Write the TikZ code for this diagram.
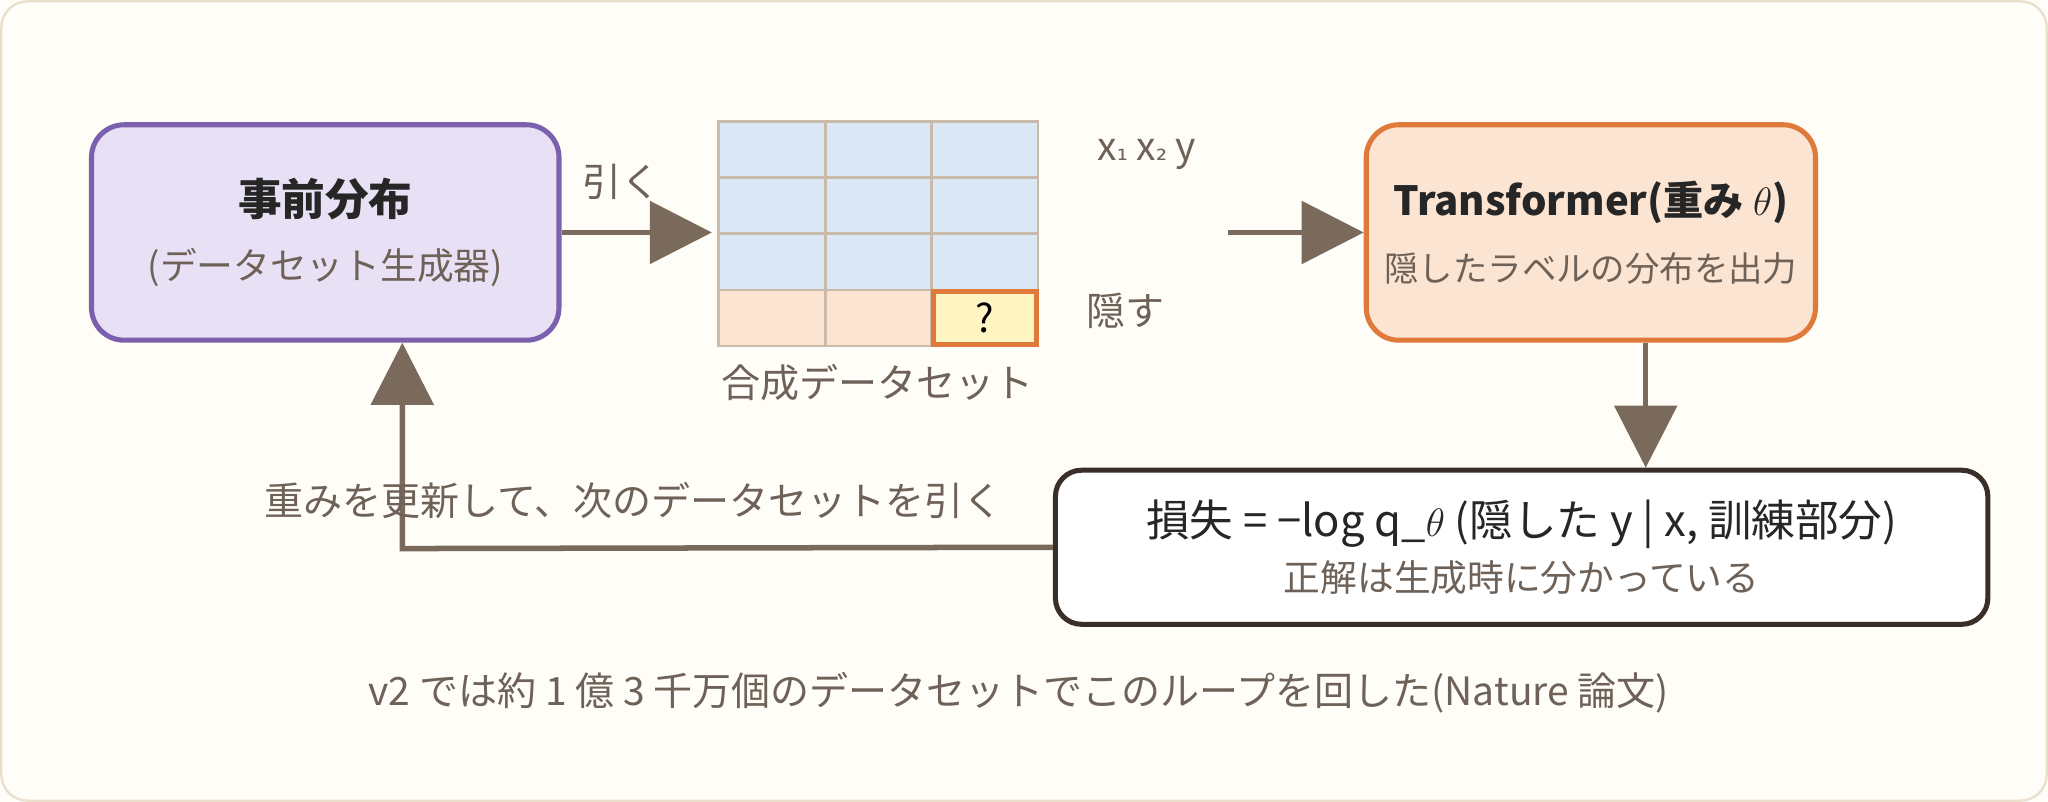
\documentclass[tikz,border=0pt]{standalone}
\usepackage{fontspec}
\setmainfont{Noto Sans CJK JP}
\newfontfamily\subfont{DejaVu Sans}
\usetikzlibrary{arrows.meta,positioning}
\definecolor{ink}{HTML}{6E6157}
\definecolor{flow}{HTML}{7A6A5C}
\definecolor{lilac}{HTML}{E8E1F5}
\definecolor{violet}{HTML}{7B60AE}
\definecolor{peach}{HTML}{FBE4D2}
\definecolor{tangerine}{HTML}{E07A3A}
\definecolor{sky}{HTML}{DCE8F5}
\definecolor{grid}{HTML}{C9BAAA}
\definecolor{lemon}{HTML}{FFF5C2}
\definecolor{paper}{HTML}{FFFDF8}
\definecolor{rim}{HTML}{EADFCB}
\definecolor{dark}{HTML}{3A2E28}
\tikzset{
  box/.style={rounded corners=0.5cm, line width=2.2pt, minimum width=7.16cm, minimum height=3.3cm, align=center, inner sep=0pt},
  flowarrow/.style={draw=flow, line width=2.4pt, -{Triangle[length=0.95cm,width=0.95cm]}},
  note/.style={text=ink, font=\fontsize{17}{20}\selectfont},
  cell/.style={draw=grid, line width=1.2pt, minimum width=1.63cm, minimum height=0.86cm, inner sep=0pt}
}
\begin{document}
\begin{tikzpicture}[x=0.02cm,y=-0.02cm]
\path[use as bounding box, fill=paper] (0,0) rectangle (1568,614);
\draw[draw=rim, line width=1pt, rounded corners=0.4cm] (1,1) rectangle (1567,613);

\node[box, draw=violet, fill=lilac] (prior) at (249,178)
  {\textbf{\fontsize{19}{22}\selectfont\color{black!85}事前分布}\\[0.4cm]{\fontsize{16}{19}\selectfont\color{ink}(データセット生成器)}};
\node[box, draw=tangerine, fill=peach, minimum width=6.88cm] (model) at (1218,178)
  {\textbf{\fontsize{17.5}{21}\selectfont\color{black!85}Transformer(重み $\theta$)}\\[0.4cm]{\fontsize{15}{18}\selectfont\color{ink}隠したラベルの分布を出力}};
\node[box, draw=dark, fill=white, minimum width=14.28cm, minimum height=2.36cm, rounded corners=0.4cm] (loss) at (1165,419)
  {{\fontsize{19}{22}\selectfont\color{black!85}損失 = −log q\_$\theta$ (隠した y | x, 訓練部分)}\\[0.15cm]{\fontsize{16}{19}\selectfont\color{ink}正解は生成時に分かっている}};

% synthetic table
\foreach \r in {0,1,2}
  \foreach \c in {0,1,2}
    \node[cell, fill=sky] (t\r\c) at (591+81.5*\c,114.5+43*\r) {};
\node[cell, fill=peach] (t30) at (591,243.5) {};
\node[cell, fill=peach] (t31) at (672.5,243.5) {};
\node[cell, fill=lemon, draw=tangerine, line width=2.2pt, minimum width=1.58cm, minimum height=0.82cm] (t32) at (754,243.5) {\fontsize{17}{20}\selectfont ?};
\node[note] (cols) at (878,118) {x{\subfont\fontsize{12}{14}\selectfont ₁} x{\subfont\fontsize{12}{14}\selectfont ₂} y};
\node[note] (hide) at (862,238) {隠す};
\node[note] (synth) at (672,293) {合成データセット};

\coordinate (tin) at (545,178);
\coordinate (tout) at (940,178);
\coordinate (corner) at (308,420);

\draw[flowarrow] (prior.east) -- (tin) node[note, pos=0.4, above=0.35cm] {引く};
\draw[flowarrow] (tout) -- (model.west);
\draw[flowarrow] (model.south -| 1260,0) -- (loss.north -| 1260,0);
\draw[flowarrow] (loss.west) -- (corner) -- (corner |- prior.south);
\node[note] (update) at (485,383) {重みを更新して、次のデータセットを引く};

\node[note] (caption) at (780,530) {v2 では約 1 億 3 千万個のデータセットでこのループを回した(Nature 論文)};
\end{tikzpicture}
\end{document}
